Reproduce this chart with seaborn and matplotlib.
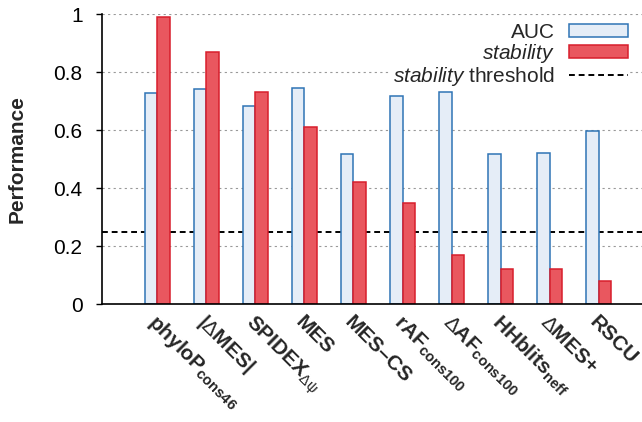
import matplotlib
matplotlib.use("Agg")
import matplotlib.pyplot as plt
import matplotlib.transforms as mtransforms
from matplotlib.patches import Patch
from matplotlib.lines import Line2D
import numpy as np
import pandas as pd
import seaborn as sns

# ---- data ----
methods = ["phyloP", "|dMES|", "SPIDEX", "MES", "MES-CS", "rAF", "dAF", "HHblits", "dMES+", "RSCU"]
tick_labels = [
    r"phyloP$_{\mathbf{cons46}}$",
    r"|$\mathrm{\Delta}$MES|",
    r"SPIDEX$_{\mathrm{\Delta\psi}}$",
    "MES",
    "MES\u2013CS",
    r"rAF$_{\mathbf{cons100}}$",
    r"$\mathrm{\Delta}$AF$_{\mathbf{cons100}}$",
    r"HHblits$_{\mathbf{neff}}$",
    r"$\mathrm{\Delta}$MES+",
    "RSCU",
]
auc = [0.727, 0.740, 0.684, 0.746, 0.517, 0.717, 0.731, 0.517, 0.522, 0.597]
stability = [0.990, 0.870, 0.730, 0.610, 0.420, 0.350, 0.169, 0.120, 0.120, 0.080]
threshold = 0.25
yticks = [0, 0.2, 0.4, 0.6, 0.8, 1]
ytick_labels = ["0", "0.2", "0.4", "0.6", "0.8", "1"]

# ---- style ----
sns.set_theme(style="white")
plt.rcParams["font.family"] = ["Liberation Sans", "DejaVu Sans"]
plt.rcParams["mathtext.fontset"] = "custom"
plt.rcParams["mathtext.rm"] = "Liberation Sans"
plt.rcParams["mathtext.bf"] = "Liberation Sans:bold"
plt.rcParams["mathtext.it"] = "Liberation Sans:italic"

FS = 15
AUC_FACE, AUC_EDGE = "#e5edf7", "#2f74b5"
STAB_FACE, STAB_EDGE = "#e9575f", "#d81e2c"

fig = plt.figure(figsize=(6.42, 4.22), dpi=100)
ax = fig.add_axes([102 / 642, 1 - 304 / 422, 1 - 102 / 642, 290 / 422])

df = pd.DataFrame({
    "method": methods * 2,
    "metric": ["AUC"] * len(methods) + ["stability"] * len(methods),
    "value": auc + stability,
})

sns.barplot(data=df, x="method", y="value", hue="metric", order=methods,
            hue_order=["AUC", "stability"],
            palette={"AUC": AUC_FACE, "stability": STAB_FACE},
            width=0.51, gap=0, saturation=1, linewidth=1.1,
            legend=False, ax=ax, zorder=2)
for cont, ec in zip(ax.containers, [AUC_EDGE, STAB_EDGE]):
    for p in cont:
        p.set_edgecolor(ec)
        p.set_zorder(2)

ax.axhline(threshold, color="black", lw=1.4, ls=(0, (3, 2)), zorder=1)

ax.set_ylim(0, 1)
ax.set_xlim(-1.125, 9.88)
ax.set_yticks(yticks)
ax.set_yticklabels(ytick_labels, fontsize=FS)
ax.yaxis.grid(True, color="#999999", ls=(0, (2, 3)), lw=0.8, zorder=0)
ax.xaxis.grid(False)
ax.set_axisbelow(True)

for s in ["top", "right"]:
    ax.spines[s].set_visible(False)
for s in ["left", "bottom"]:
    ax.spines[s].set_color("black")
    ax.spines[s].set_linewidth(1.2)

ax.tick_params(axis="y", direction="out", length=4, width=1, color="black",
               left=True, pad=10, labelcolor="black")
ax.tick_params(axis="x", length=0, pad=0)

ax.set_xticks(range(len(methods)))
ax.set_xticklabels(tick_labels, rotation=-45, ha="left", va="baseline",
                   rotation_mode="anchor", fontsize=FS, fontweight="bold")
offset = mtransforms.ScaledTranslation(-10 / 100, -19 / 100, fig.dpi_scale_trans)
for lab in ax.get_xticklabels():
    lab.set_transform(lab.get_transform() + offset)

ax.set_xlabel("")
ax.set_ylabel("Performance", fontsize=FS, fontweight="bold")
ax.yaxis.set_label_coords(-0.14, 0.5)

handles = [
    Patch(facecolor=AUC_FACE, edgecolor=AUC_EDGE, linewidth=1.1),
    Patch(facecolor=STAB_FACE, edgecolor=STAB_EDGE, linewidth=1.1),
    Line2D([0], [0], color="black", lw=1.4, ls=(0, (3, 2))),
]
labels = ["AUC", r"$\mathit{stability}$", r"$\mathit{stability}$ threshold"]
leg = ax.legend(handles, labels, loc="upper right", bbox_to_anchor=(630 / 642, 1 - 21 / 422),
                bbox_transform=fig.transFigure, markerfirst=False, fontsize=FS,
                handlelength=2.85, handleheight=0.55, handletextpad=0.67,
                labelspacing=0.0, borderpad=0.1, borderaxespad=0,
                frameon=True, fancybox=False)
leg.get_frame().set_facecolor("white")
leg.get_frame().set_edgecolor("none")
leg.get_frame().set_alpha(1)
leg.set_zorder(5)

fig.savefig("out.png", dpi=100)
